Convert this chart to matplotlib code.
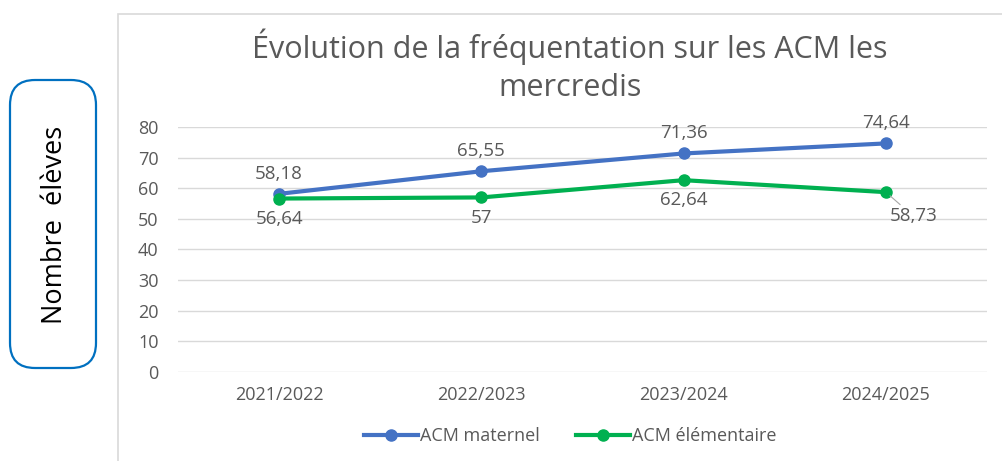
import matplotlib.pyplot as plt
from matplotlib.patches import FancyBboxPatch, Rectangle
from matplotlib.lines import Line2D

plt.rcParams['font.family'] = ['Open Sans', 'DejaVu Sans']

years = ["2021/2022", "2022/2023", "2023/2024", "2024/2025"]
maternel = [58.18, 65.55, 71.36, 74.64]
elementaire = [56.64, 57, 62.64, 58.73]
yticks = [0, 10, 20, 30, 40, 50, 60, 70, 80]

blue = "#4472C4"
green = "#00B050"
grey = "#595959"


def fr(v):
    return ("%g" % v).replace(".", ",")


fig = plt.figure(figsize=(10.02, 4.61), dpi=100)
W, H = 1002, 461

# chart frame (right edge cropped)
fig.patches.append(Rectangle((118 / W, -0.1), 1.0, (461 - 14) / H + 0.1,
                             transform=fig.transFigure, fill=False,
                             edgecolor="#D9D9D9", linewidth=1.2))

# plot area
ax = fig.add_axes([178 / W, 1 - 372 / H, (987 - 178) / W, (372 - 127) / H])
x = list(range(len(years)))
ax.plot(x, maternel, color=blue, lw=3, marker="o", ms=8, label="ACM maternel")
ax.plot(x, elementaire, color=green, lw=3, marker="o", ms=8, label="ACM élémentaire")
ax.set_xlim(-0.5, 3.5)
ax.set_ylim(0, 80)
ax.set_yticks(yticks)
ax.set_xticks(x)
ax.set_xticklabels(years)
ax.grid(axis="y", color="#D9D9D9", lw=1)
ax.set_axisbelow(True)
for s in ax.spines.values():
    s.set_visible(False)
ax.tick_params(length=0, colors=grey, labelsize=13)
ax.tick_params(axis="x", pad=10)
ax.tick_params(axis="y", pad=14)

for i, v in enumerate(maternel):
    ax.annotate(fr(v), (i, v), xytext=(0, 8), textcoords="offset points",
                ha="center", va="bottom", fontsize=13.5, color=grey)
for i, v in enumerate(elementaire):
    if i == 3:
        ax.annotate(fr(v), (i, v), xytext=(20, -11), textcoords="offset points",
                    ha="center", va="top", fontsize=13.5, color=grey,
                    arrowprops=dict(arrowstyle="-", color="#A6A6A6", lw=0.8,
                                    shrinkA=0, shrinkB=4))
    else:
        ax.annotate(fr(v), (i, v), xytext=(0, -8), textcoords="offset points",
                    ha="center", va="top", fontsize=13.5, color=grey)

fig.text(570 / W, 1 - 66 / H, "Évolution de la fréquentation sur les ACM les\nmercredis",
         ha="center", va="center", fontsize=22, color=grey, linespacing=1.35)

fig.legend(handles=[Line2D([], [], color=blue, lw=3, marker="o", ms=8),
                    Line2D([], [], color=green, lw=3, marker="o", ms=8)],
           labels=["ACM maternel", "ACM élémentaire"],
           loc="center", bbox_to_anchor=(570 / W, 1 - 436 / H), ncol=2,
           frameon=False, fontsize=13, labelcolor=grey, handlelength=3,
           handletextpad=0.1, columnspacing=2.0)

# side label box
fig.patches.append(FancyBboxPatch((10 / W, 1 - 368 / H), 86 / W, 288 / H,
                                  boxstyle="round,pad=0.0,rounding_size=0.025",
                                  transform=fig.transFigure, fill=False,
                                  edgecolor="#0070C0", linewidth=1.6,
                                  mutation_aspect=W / H))
fig.text(55 / W, 1 - 225 / H, "Nombre  élèves", rotation=90, ha="center",
         va="center", fontsize=19.5, color="black")

fig.savefig("out.png", dpi=100)
